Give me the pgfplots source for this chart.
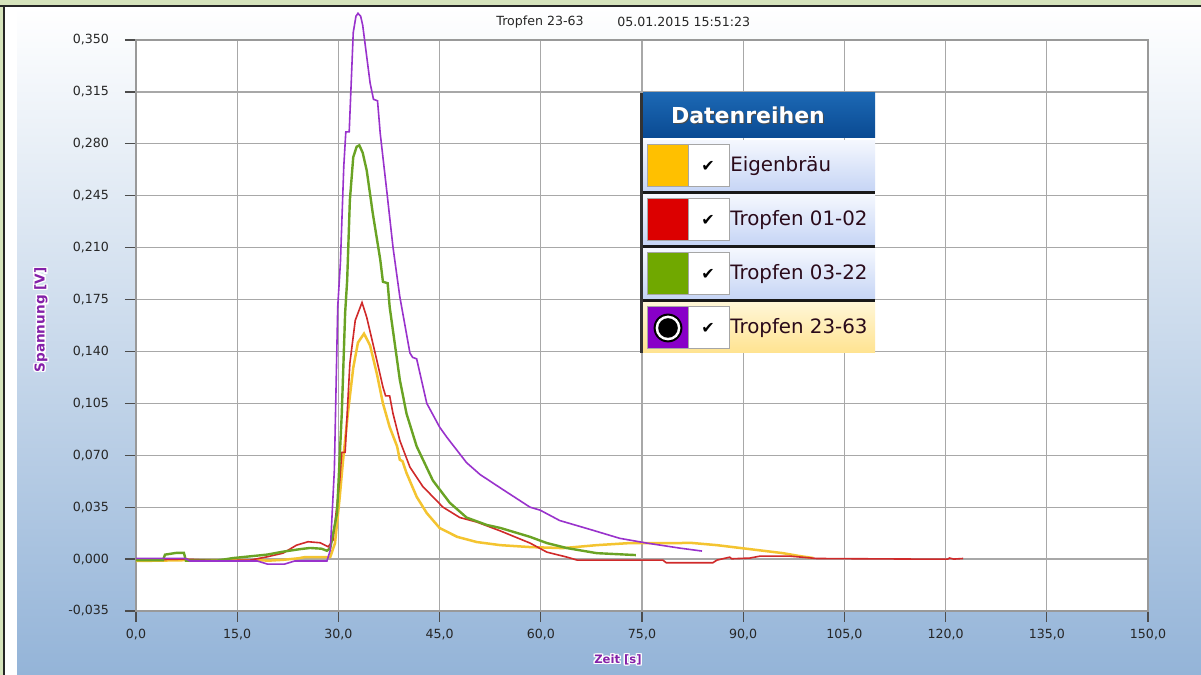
\documentclass[border=0pt]{standalone}
\usepackage{fontspec}
\setmainfont{DejaVu Sans}
\usepackage{pgfplots}
\pgfplotsset{compat=1.18}

\definecolor{panelblue}{HTML}{94B4D8}
\definecolor{framegreen}{HTML}{D6E4BC}
\definecolor{gridgray}{HTML}{A8A8A8}
\definecolor{cEigen}{HTML}{F4C430}
\definecolor{cT0102}{HTML}{D02A2A}
\definecolor{cT0322}{HTML}{6AA324}
\definecolor{cT2363}{HTML}{9932CC}
\definecolor{swYellow}{HTML}{FFC000}
\definecolor{swRed}{HTML}{DC0000}
\definecolor{swGreen}{HTML}{70A800}
\definecolor{swPurple}{HTML}{8800C8}
\definecolor{hdrTop}{HTML}{1C68B4}
\definecolor{hdrBot}{HTML}{0A4A92}
\definecolor{rowTop}{HTML}{F4F7FE}
\definecolor{rowBot}{HTML}{C6D5F5}
\definecolor{selTop}{HTML}{FFF6D6}
\definecolor{selBot}{HTML}{FFE390}
\definecolor{legText}{HTML}{2A0A1A}
\definecolor{labPurple}{HTML}{8420A8}

\newcommand{\tickfont}{\fontsize{6.3}{7.5}\selectfont}
\newcommand{\legfont}{\fontsize{9.9}{11}\selectfont}

% one legend row: bottom y, swatch colour, background top/bottom, text
\newcommand{\legrow}[5]{%
  \shade[top color=#3, bottom color=#4] (643,#1) rectangle (875,#1+50);
  \fill[#2] (647,#1+4) rectangle (688,#1+46);
  \draw[gray!70, line width=0.5pt] (647,#1+4) rectangle (688,#1+46);
  \draw[gray!70, fill=white, line width=0.5pt] (688,#1+4) rectangle (729,#1+46);
  \node at (708,#1+25) {\fontsize{8}{8}\selectfont ✔};
  \node[anchor=west, text=legText, font=\legfont, inner sep=0pt] at (730,#1+25) {#5};
}

\begin{document}
\begin{tikzpicture}[x=0.5pt, y=0.5pt]
\useasboundingbox (0,0) rectangle (1201,675);

% window background
\shade[top color=white, bottom color=panelblue] (17,0) rectangle (1201,668);
\fill[white] (5,0) rectangle (17,668);
\fill[framegreen] (0,670) rectangle (1201,675);
\fill[black!85] (0,668) rectangle (1201,670);
\fill[framegreen] (0,0) rectangle (3,668);
\fill[black!85] (3,0) rectangle (5,670);

\begin{axis}[
  at={(68pt,32pt)}, anchor=south west,
  scale only axis, width=506pt, height=285.5pt,
  xmin=0, xmax=150, ymin=-0.035, ymax=0.35,
  xtick={0,15,...,150},
  ytick={-0.035,0,0.035,0.07,0.105,0.14,0.175,0.21,0.245,0.28,0.315,0.35},
  grid=major,
  major grid style={color=gridgray, line width=0.6pt},
  axis background/.style={fill=white},
  axis line style={color=gray!80, line width=0.6pt},
  tick pos=left, tick align=outside, major tick length=5.5pt,
  tick style={color=black!70, line width=0.6pt},
  ticklabel style={font=\tickfont, text=black!85},
  /pgf/number format/assume math mode=true,
  /pgf/number format/use comma,
  xticklabel style={/pgf/number format/fixed, /pgf/number format/fixed zerofill, /pgf/number format/precision=1},
  yticklabel style={xshift=-4.5pt, /pgf/number format/fixed, /pgf/number format/fixed zerofill, /pgf/number format/precision=3},
  no markers,
  clip=false,
]
% Eigenbraeu
\addplot[cEigen, line width=1.25pt] coordinates {
(0,-0.0013)(8,-0.0007)(15,-0.0007)(19.9,-0.001)(21.8,-0.0005)(24,0.0005)(25,0.0013)
(28.3,0.0013)(28.8,0.0015)(29.5,0.0108)(30.2,0.042)(30.7,0.067)(31.4,0.098)(32.2,0.129)
(32.9,0.146)(33.8,0.152)(34.7,0.144)(35.7,0.125)(36.6,0.105)(37.6,0.089)(38.7,0.076)
(39.1,0.067)(39.5,0.066)(40.1,0.058)(41.6,0.042)(43.1,0.031)(45,0.021)(47.6,0.015)
(50.5,0.0115)(54,0.0094)(58.4,0.0081)(63.3,0.0074)(68.3,0.0094)(73.2,0.0108)(80.6,0.0108)
(82.1,0.011)(86.1,0.0094)(91,0.0067)(95.9,0.004)(98.4,0.002)(100.4,0.0007)
};
% Tropfen 01-02
\addplot[cT0102, line width=0.8pt] coordinates {
(0,-0.0007)(7,0.000)(12,-0.001)(16.9,-0.0007)(19.4,0.0015)(21.8,0.004)(23.8,0.0094)
(25.5,0.0117)(27.3,0.011)(28.5,0.0083)(29.2,0.0128)(30.2,0.053)(30.5,0.072)(31,0.072)
(31.3,0.098)(31.7,0.132)(32.5,0.161)(33.5,0.173)(34.2,0.163)(35.7,0.134)(36.6,0.116)
(37,0.110)(37.6,0.110)(38.1,0.098)(39.1,0.080)(40.6,0.062)(42.5,0.049)(44,0.042)
(45.5,0.035)(48,0.028)(50.5,0.025)(54,0.019)(58.4,0.0108)(60.9,0.0047)(63.9,0.0013)
(65.4,-0.0007)(78.1,-0.0007)(78.6,-0.0025)(85.5,-0.0025)(86.1,-0.0007)(88,0.0013)
(88.3,0.0002)(91,0.0007)(92.5,0.002)(96.9,0.002)(100.9,0.0004)(108.3,0.0002)
(115.8,0.0)(120.3,0.0)(120.6,0.0007)(121.2,0.0)(122.6,0.0004)
};
% Tropfen 03-22
\addplot[cT0322, line width=1.2pt] coordinates {
(0,-0.0007)(4,-0.0007)(4.3,0.003)(6,0.0042)(7.1,0.0042)(7.4,-0.001)(12,-0.001)
(14.4,0.0007)(19.4,0.003)(21.8,0.005)(24.3,0.0067)(25.8,0.0075)(27.5,0.007)(28.3,0.0056)
(28.8,0.0074)(29.8,0.031)(30.5,0.098)(31,0.166)(31.3,0.188)(31.7,0.242)(32.2,0.271)
(32.7,0.278)(33.1,0.279)(33.6,0.274)(34.2,0.262)(35.1,0.233)(36.2,0.202)(36.6,0.187)(37.3,0.186)(37.6,0.170)
(39.1,0.121)(40.1,0.098)(41.6,0.076)(44,0.053)(46.5,0.038)(49,0.028)(52,0.023)
(54,0.021)(58.4,0.015)(60.9,0.0108)(63.9,0.0074)(68.3,0.004)(74.1,0.0027)
};
% Tropfen 23-63
\addplot[cT2363, line width=0.8pt] coordinates {
(0,0.0005)(3,0.0005)(7.3,0.0005)(8,-0.0013)(18,-0.0013)(19.5,-0.0034)(22,-0.0034)
(23.5,-0.0013)(28.3,-0.0013)(28.8,0.006)(29.4,0.06)(29.9,0.17)(30.3,0.2)(30.8,0.265)
(31.1,0.288)(31.6,0.288)(31.8,0.31)(32.2,0.355)(32.6,0.366)(32.9,0.368)(33.3,0.366)(33.6,0.36)(34.7,0.321)
(35.2,0.310)(35.8,0.309)(36.2,0.287)(37.2,0.247)(38.1,0.21)(39.1,0.177)(40.6,0.139)
(41,0.136)(41.6,0.135)(43.1,0.105)(45,0.089)(46.1,0.082)(49,0.065)(51,0.057)(54,0.048)
(58.4,0.035)(59.9,0.033)(62.8,0.026)(67.3,0.020)(71.7,0.014)(75.7,0.0108)(80.6,0.0074)
(83.9,0.0054)
};
\end{axis}

% title
\node[anchor=west, font=\tickfont, text=black!85, inner sep=0pt] at (496,653) {Tropfen 23-63};
\node[anchor=west, font=\tickfont, text=black!85, inner sep=0pt] at (617,653) {05.01.2015 15:51:23};

% axis titles with white halo
\foreach \dx/\dy in {-1/0,1/0,0/-1,0/1,-1/-1,1/1,-1/1,1/-1}{
  \node[rotate=90, text=white, font=\bfseries\fontsize{6.8}{8}\selectfont] at (41+\dx*1.3,355+\dy*1.3) {Spannung [V]};
  \node[text=white, font=\bfseries\fontsize{5.8}{7}\selectfont] at (618+\dx*1.2,15+\dy*1.2) {Zeit [s]};
}
\node[rotate=90, text=labPurple, font=\bfseries\fontsize{6.8}{8}\selectfont] at (41,355) {Spannung [V]};
\node[text=labPurple, font=\bfseries\fontsize{5.8}{7}\selectfont] at (618,15) {Zeit [s]};

% series panel
\shade[top color=hdrTop, bottom color=hdrBot] (643,537) rectangle (875,582);
\node[text=black!70, font=\bfseries\fontsize{11}{13}\selectfont] at (749,559) {Datenreihen};
\node[text=white, font=\bfseries\fontsize{11}{13}\selectfont] at (748,560) {Datenreihen};
\legrow{484}{swYellow}{rowTop}{rowBot}{Eigenbräu}
\legrow{430}{swRed}{rowTop}{rowBot}{Tropfen 01-02}
\legrow{376}{swGreen}{rowTop}{rowBot}{Tropfen 03-22}
\legrow{322}{swPurple}{selTop}{selBot}{Tropfen 23-63}
\fill[black] (668,347) circle[radius=7.2pt];
\fill[white] (668,347) circle[radius=6.2pt];
\fill[black] (668,347) circle[radius=4.9pt];
\fill[black!90] (643,481) rectangle (875,483.5);
\fill[black!90] (643,427) rectangle (875,429.5);
\fill[black!90] (643,373) rectangle (875,375.5);
\fill[black!80] (640,322) rectangle (643,582);
\end{tikzpicture}
\end{document}
